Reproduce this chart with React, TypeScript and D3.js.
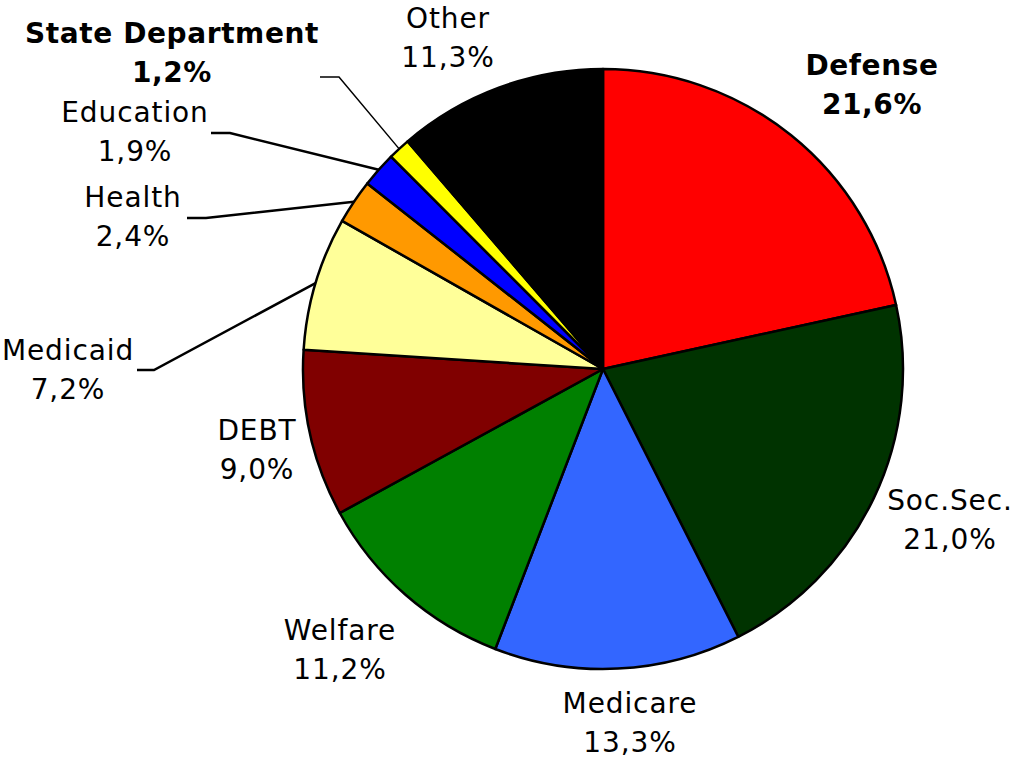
import React, { useEffect, useRef } from 'react'
import * as d3 from 'd3'

// budget shares, clockwise from 12 o'clock
const categories = ['Defense', 'Soc.Sec.', 'Medicare', 'Welfare', 'DEBT', 'Medicaid', 'Health', 'Education', 'State Department', 'Other']
const shares = [21.6, 21.0, 13.3, 11.2, 9.0, 7.2, 2.4, 1.9, 1.2, 11.3]
const shareLabels = ['21,6%', '21,0%', '13,3%', '11,2%', '9,0%', '7,2%', '2,4%', '1,9%', '1,2%', '11,3%']
const colors = ['#ff0000', '#003300', '#3366ff', '#008000', '#800000', '#ffff99', '#ff9900', '#0000ff', '#ffff00', '#000000']
const boldLabels = ['Defense', 'State Department']

// label layout: centre of the two text lines, plus optional leader line start
const labelLayout = {
  Defense: { x: 872, y: 65 },
  'Soc.Sec.': { x: 950, y: 500 },
  Medicare: { x: 630, y: 703 },
  Welfare: { x: 340, y: 630 },
  DEBT: { x: 257, y: 430 },
  Medicaid: { x: 68, y: 350, leader: [137, 370, 154], lw: 2.5 },
  Health: { x: 133, y: 197, leader: [187, 218, 206], lw: 2.5 },
  Education: { x: 135, y: 112, leader: [211, 133, 230], lw: 2.5 },
  'State Department': { x: 172, y: 33, leader: [320, 77, 339], lw: 1.5 },
  Other: { x: 448, y: 18 },
}

const W = 1020
const H = 760

const App = () => {
  const ref = useRef(null)

  useEffect(() => {
    const svg = d3.select(ref.current)
    svg.selectAll('*').remove()

    const cx = 603
    const cy = 369
    const r = 300

    const data = categories.map((c, i) => ({ name: c, value: shares[i], label: shareLabels[i], color: colors[i] }))

    const pie = d3.pie().value((d) => d.value).sort(null)
    const arcs = pie(data)
    const arc = d3.arc().innerRadius(0).outerRadius(r)

    const g = svg.append('g').attr('transform', `translate(${cx},${cy})`)
    g.selectAll('path')
      .data(arcs)
      .enter()
      .append('path')
      .attr('d', arc)
      .attr('fill', (d) => d.data.color)
      .attr('stroke', '#000')
      .attr('stroke-width', 2.5)
      .attr('stroke-linejoin', 'round')

    // leader lines
    arcs.forEach((a) => {
      const lay = labelLayout[a.data.name]
      if (!lay.leader) return
      const mid = (a.startAngle + a.endAngle) / 2
      const ex = cx + r * Math.sin(mid)
      const ey = cy - r * Math.cos(mid)
      const [x0, y0, x1] = lay.leader
      svg
        .append('polyline')
        .attr('points', `${x0},${y0} ${x1},${y0} ${ex},${ey}`)
        .attr('fill', 'none')
        .attr('stroke', '#000')
        .attr('stroke-width', lay.lw)
    })

    // labels
    arcs.forEach((a) => {
      const lay = labelLayout[a.data.name]
      const bold = boldLabels.includes(a.data.name)
      const t = svg
        .append('text')
        .attr('text-anchor', 'middle')
        .attr('font-family', 'Verdana, "DejaVu Sans", sans-serif')
        .attr('font-size', 28)
        .attr('letter-spacing', bold ? 0.6 : 0.9)
        .attr('font-weight', bold ? 'bold' : 'normal')
        .attr('fill', '#000')
      t.append('tspan').attr('x', lay.x).attr('y', lay.y).attr('dy', '0.35em').text(a.data.name)
      t.append('tspan').attr('x', lay.x).attr('y', lay.y + 39).attr('dy', '0.35em').text(a.data.label)
    })
  }, [])

  return (
    <div style={{ width: W, height: H, position: 'absolute', left: 0, top: 0, background: '#fff' }}>
      <svg ref={ref} width={W} height={H} />
    </div>
  )
}

export default App
